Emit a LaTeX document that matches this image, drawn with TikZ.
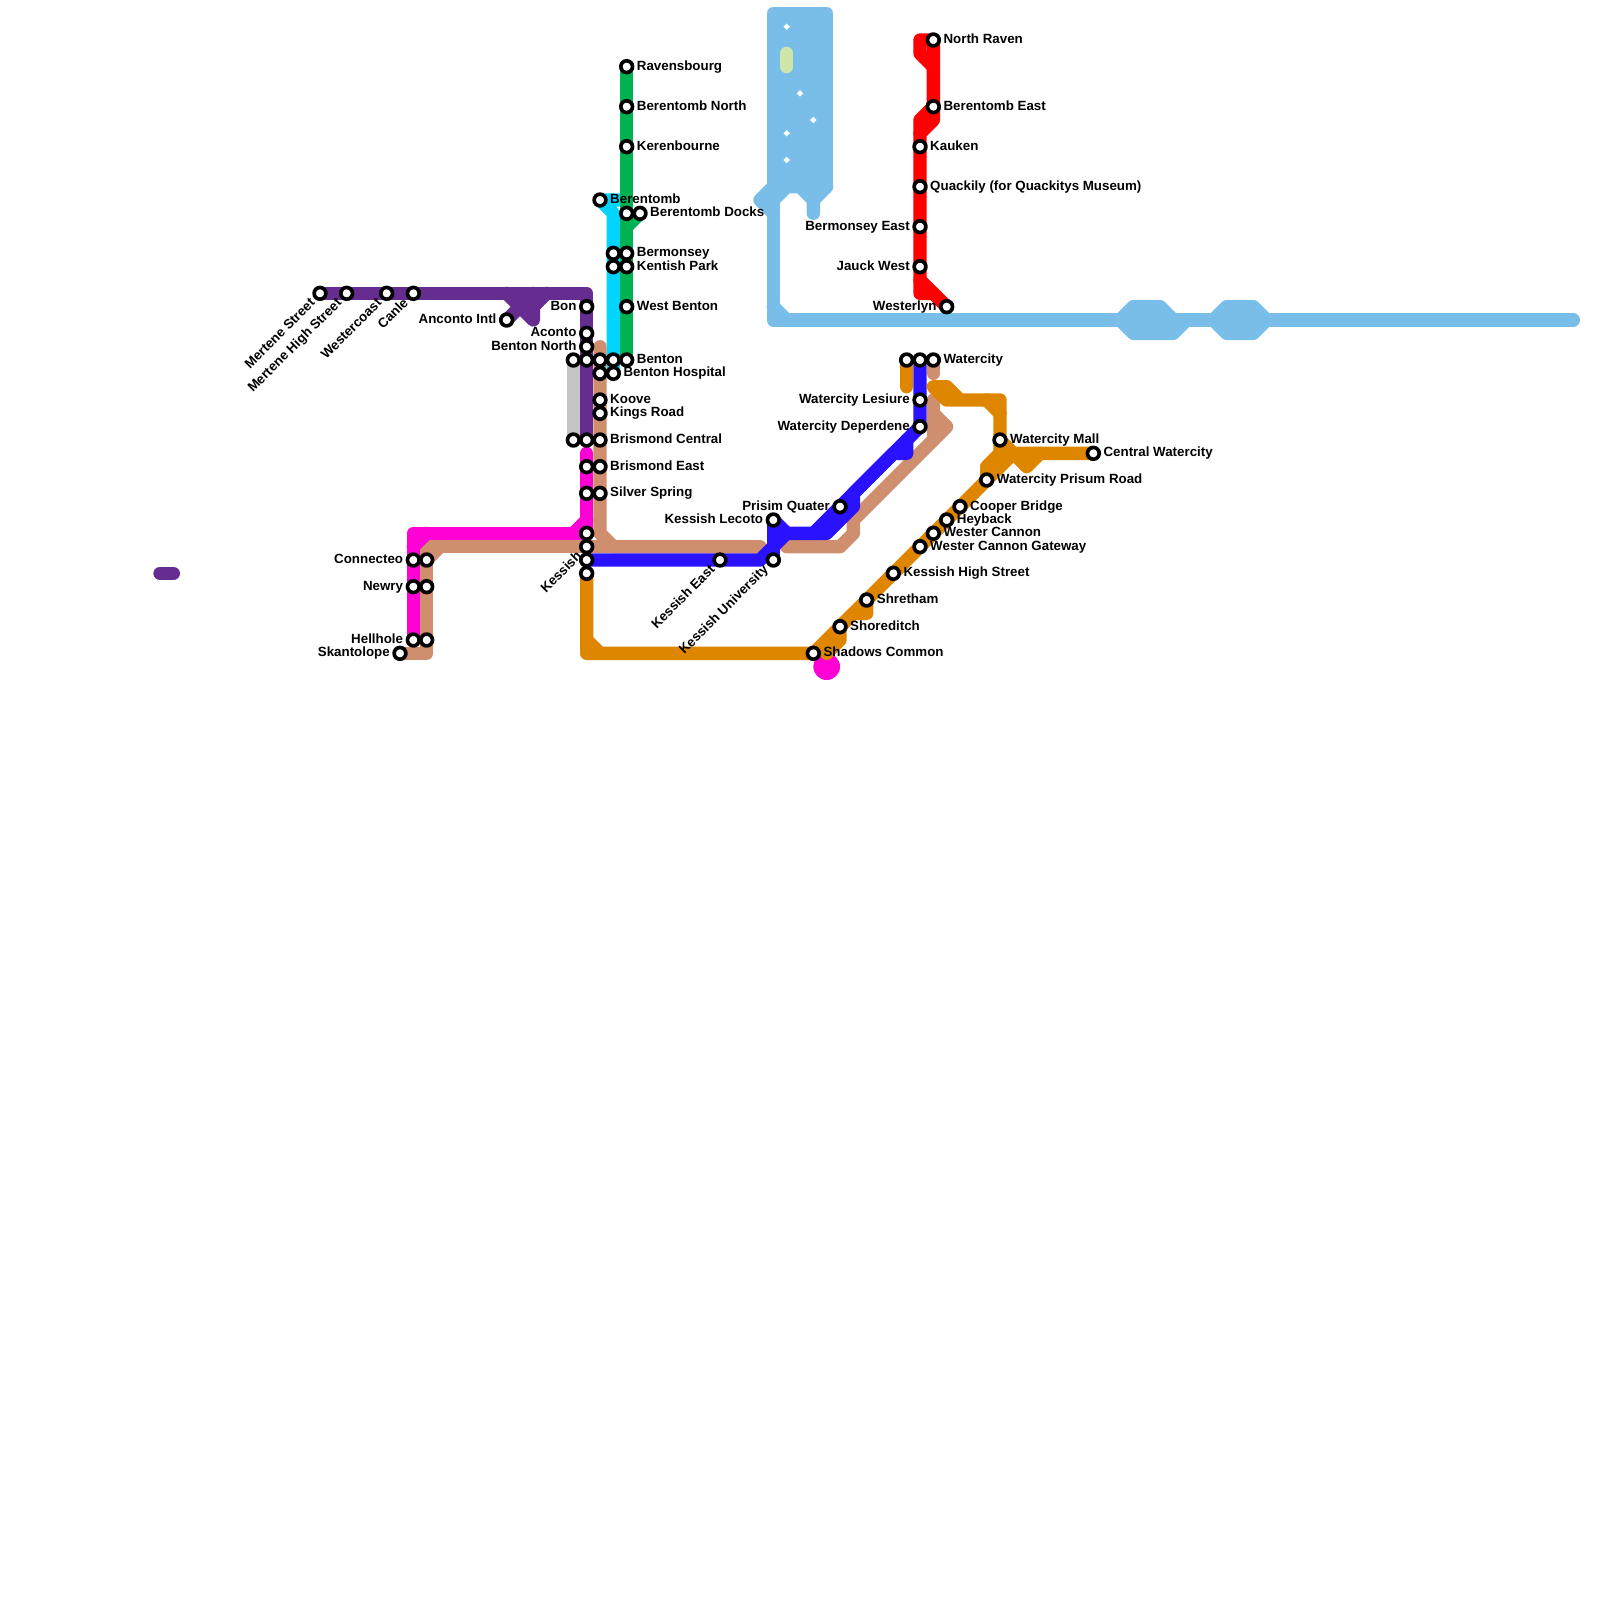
\documentclass[tikz,border=0pt]{standalone}
\usepackage{xcolor}
\usepackage{fontspec}
\usepackage{tikz}
\usetikzlibrary{positioning,backgrounds,shapes.geometric}
\setmainfont{Liberation Sans}
\definecolor{purpleln}{HTML}{662C90}
\definecolor{magentaln}{HTML}{FF00D4}
\definecolor{tanln}{HTML}{CF8E6D}
\definecolor{blueln}{HTML}{2A12FF}
\definecolor{orangeln}{HTML}{DF8600}
\definecolor{cyanln}{HTML}{00D4FF}
\definecolor{greenln}{HTML}{00B251}
\definecolor{redln}{HTML}{FF0000}
\definecolor{skyln}{HTML}{79BDE9}
\definecolor{greyln}{HTML}{C5C5C5}
\definecolor{paleln}{HTML}{CFE4A7}

\begin{document}
\begin{tikzpicture}[
  x=0.4cm, y=-0.4cm,
  metro/.style={line width=0.4cm, line cap=round, line join=round},
  stn/.style={circle, draw=black, fill=white, line width=0.11cm, minimum size=0.352cm, inner sep=0pt},
  gap/.style={diamond, fill=white, minimum size=0.2cm, inner sep=0pt},
  lbl/.style={font=\fontsize{11.38}{13}\selectfont\bfseries, text=black, inner sep=0pt},
  rlbl/.style={lbl, anchor=base west, xshift=0.3cm, yshift=-0.1cm},
  llbl/.style={lbl, anchor=base east, xshift=-0.3cm, yshift=-0.1cm},
  dlbl/.style={lbl, anchor=base east, xshift=-0.13cm, yshift=-0.31cm, rotate=45},
]
\useasboundingbox (0,0) rectangle (120,120);

% Green line
\node[stn] (ravensbourg) at (47,5) {};
\node[stn] (berentombn) at (47,8) {};
\node[stn] (kerenbourne) at (47,11) {};
\node[stn] (berentombb) at (47,16) {};
\node[stn] (docks) at (48,16) {};
\node[stn] (bermonsey) at (47,19) {};
\node[stn] (kentish) at (47,20) {};
\node[stn] (westbenton) at (47,23) {};
\node[stn] (benton) at (47,27) {};
\node[rlbl] (ravensbourgl) at (ravensbourg.center) {Ravensbourg};
\node[rlbl] (berentombnl) at (berentombn.center) {Berentomb North};
\node[rlbl] (kerenbournel) at (kerenbourne.center) {Kerenbourne};
\node[rlbl] (docksl) at (docks.center) {Berentomb Docks};
\node[rlbl] (bermonseyl) at (bermonsey.center) {Bermonsey};
\node[rlbl] (kentishl) at (kentish.center) {Kentish Park};
\node[rlbl] (westbentonl) at (westbenton.center) {West Benton};
\node[rlbl] (bentonl) at (benton.center) {Benton};

% Cyan line
\node[stn] (berentomb) at (45,15) {};
\node[stn] (bermonseyb) at (46,19) {};
\node[stn] (kentishb) at (46,20) {};
\node[stn] (bentonb) at (46,27) {};
\node[stn] (hospital) at (46,28) {};
\node[rlbl] (berentombl) at (berentomb.center) {Berentomb};
\node[rlbl] (hospitall) at (hospital.center) {Benton Hospital};

% Purple line
\node[stn] (mertene) at (24,22) {};
\node[stn] (mertenehigh) at (26,22) {};
\node[stn] (westercoast) at (29,22) {};
\node[stn] (canle) at (31,22) {};
\node[stn] (anconto) at (38,24) {};
\node[stn] (bon) at (44,23) {};
\node[stn] (aconto) at (44,25) {};
\node[stn] (bentonn) at (44,26) {};
\node[stn] (bentonc) at (44,27) {};
\node[stn] (brismondb) at (44,33) {};
\node[dlbl] (mertenel) at (mertene.center) {Mertene Street};
\node[dlbl] (mertenehighl) at (mertenehigh.center) {Mertene High Street};
\node[dlbl] (westercoastl) at (westercoast.center) {Westercoast};
\node[dlbl] (canlel) at (canle.center) {Canle};
\node[llbl] (ancontol) at (anconto.center) {Anconto Intl};
\node[llbl] (bonl) at (bon.center) {Bon};
\node[llbl] (acontol) at (aconto.center) {Aconto};
\node[llbl] (bentonnl) at (bentonn.center) {Benton North};

% Grey line
\node[stn] (bentond) at (43,27) {};
\node[stn] (brismondc) at (43,33) {};

% Tan line
\node[stn] (bentone) at (45,27) {};
\node[stn] (hospitalb) at (45,28) {};
\node[stn] (koove) at (45,30) {};
\node[stn] (kings) at (45,31) {};
\node[stn] (brismond) at (45,33) {};
\node[stn] (brismonde) at (45,35) {};
\node[stn] (silver) at (45,37) {};
\node[stn] (kessishb) at (44,41) {};
\node[stn] (connecteob) at (32,42) {};
\node[stn] (newryb) at (32,44) {};
\node[stn] (hellholeb) at (32,48) {};
\node[stn] (skantolope) at (30,49) {};
\node[stn] (watercityc) at (70,27) {};
\node[rlbl] (koovel) at (koove.center) {Koove};
\node[rlbl] (kingsl) at (kings.center) {Kings Road};
\node[rlbl] (brismondl) at (brismond.center) {Brismond Central};
\node[rlbl] (brismondel) at (brismonde.center) {Brismond East};
\node[rlbl] (silverl) at (silver.center) {Silver Spring};
\node[dlbl] (kessishl) at (kessishb.center) {Kessish};
\node[llbl] (skantolopel) at (skantolope.center) {Skantolope};
\node[rlbl] (watercityl) at (watercityc.center) {Watercity};

% Magenta line
\node[stn] (brismondf) at (44,35) {};
\node[stn] (silverb) at (44,37) {};
\node[stn] (kessisha) at (44,40) {};
\node[stn] (connecteo) at (31,42) {};
\node[stn] (newry) at (31,44) {};
\node[stn] (hellhole) at (31,48) {};
\node[llbl] (connecteol) at (connecteo.center) {Connecteo};
\node[llbl] (newryl) at (newry.center) {Newry};
\node[llbl] (hellholel) at (hellhole.center) {Hellhole};

% Blue line
\node[stn] (kessishc) at (44,42) {};
\node[stn] (kessishe) at (54,42) {};
\node[stn] (kessishu) at (58,42) {};
\node[stn] (lecoto) at (58,39) {};
\node[stn] (prisim) at (63,38) {};
\node[stn] (deperdene) at (69,32) {};
\node[stn] (lesiure) at (69,30) {};
\node[stn] (watercity) at (69,27) {};
\node[dlbl] (kessishel) at (kessishe.center) {Kessish East};
\node[dlbl] (kessishul) at (kessishu.center) {Kessish University};
\node[llbl] (lecotol) at (lecoto.center) {Kessish Lecoto};
\node[llbl] (prisiml) at (prisim.center) {Prisim Quater};
\node[llbl] (deperdenel) at (deperdene.center) {Watercity Deperdene};
\node[llbl] (lesiurel) at (lesiure.center) {Watercity Lesiure};

% Orange line
\node[stn] (kessishd) at (44,43) {};
\node[stn] (shadows) at (61,49) {};
\node[stn] (shoreditch) at (63,47) {};
\node[stn] (shretham) at (65,45) {};
\node[stn] (kessishh) at (67,43) {};
\node[stn] (gateway) at (69,41) {};
\node[stn] (wester) at (70,40) {};
\node[stn] (heyback) at (71,39) {};
\node[stn] (cooper) at (72,38) {};
\node[stn] (prisum) at (74,36) {};
\node[stn] (mall) at (75,33) {};
\node[stn] (central) at (82,34) {};
\node[stn] (watercityb) at (68,27) {};
\node[rlbl] (shadowsl) at (shadows.center) {Shadows Common};
\node[rlbl] (shoreditchl) at (shoreditch.center) {Shoreditch};
\node[rlbl] (shrethaml) at (shretham.center) {Shretham};
\node[rlbl] (kessishhl) at (kessishh.center) {Kessish High Street};
\node[rlbl] (gatewayl) at (gateway.center) {Wester Cannon Gateway};
\node[rlbl] (westerl) at (wester.center) {Wester Cannon};
\node[rlbl] (heybackl) at (heyback.center) {Heyback};
\node[rlbl] (cooperl) at (cooper.center) {Cooper Bridge};
\node[rlbl] (prisuml) at (prisum.center) {Watercity Prisum Road};
\node[rlbl] (malll) at (mall.center) {Watercity Mall};
\node[rlbl] (centrall) at (central.center) {Central Watercity};

% Red line
\node[stn] (raven) at (70,3) {};
\node[stn] (berentombe) at (70,8) {};
\node[stn] (kauken) at (69,11) {};
\node[stn] (quackily) at (69,14) {};
\node[stn] (bermonseye) at (69,17) {};
\node[stn] (jauck) at (69,20) {};
\node[stn] (westerlyn) at (71,23) {};
\node[rlbl] (ravenl) at (raven.center) {North Raven};
\node[rlbl] (berentombel) at (berentombe.center) {Berentomb East};
\node[rlbl] (kaukenl) at (kauken.center) {Kauken};
\node[rlbl] (quackilyl) at (quackily.center) {Quackily (for Quackitys Museum)};
\node[llbl] (bermonseyel) at (bermonseye.center) {Bermonsey East};
\node[llbl] (jauckl) at (jauck.center) {Jauck West};
\node[llbl] (westerlynl) at (westerlyn.center) {Westerlyn};

% Bends
\coordinate (pa) at (38,22); \coordinate (pb) at (40,22); \coordinate (pc) at (41,22);
\coordinate (pd) at (40,23); \coordinate (pe) at (40,24); \coordinate (pf) at (44,22);
\coordinate (pg) at (12,43); \coordinate (ph) at (13,43);
\coordinate (ca) at (47,15); \coordinate (cb) at (46,16); \coordinate (ga) at (47,17);
\coordinate (ta) at (45,26); \coordinate (tb) at (45,40); \coordinate (tc) at (46,41);
\coordinate (td) at (57,41); \coordinate (te) at (32,41); \coordinate (tf) at (33,41);
\coordinate (tg) at (32,49); \coordinate (th) at (59,41); \coordinate (ti) at (63,41);
\coordinate (tj) at (64,40); \coordinate (tk) at (64,39); \coordinate (tl) at (71,32);
\coordinate (tm) at (70,28); \coordinate (tn) at (70,30); \coordinate (to) at (70,31);
\coordinate (tp) at (70,33);
\coordinate (ma) at (44,34); \coordinate (mb) at (44,39); \coordinate (mc) at (43,40);
\coordinate (md) at (31,40); \coordinate (me) at (32,40); \coordinate (mf) at (31,41);
\coordinate (ba) at (57,42); \coordinate (bb) at (58,41); \coordinate (bc) at (59,40);
\coordinate (bd) at (62,40); \coordinate (be) at (64,38); \coordinate (bf) at (64,37);
\coordinate (bg) at (67,34); \coordinate (bh) at (68,34); \coordinate (bi) at (68,33);
\coordinate (bj) at (61,40);
\coordinate (oa) at (44,48); \coordinate (ob) at (44,49); \coordinate (oc) at (45,49);
\coordinate (od) at (62,49); \coordinate (oe) at (63,48); \coordinate (of) at (64,46);
\coordinate (og) at (65,46); \coordinate (oh) at (74,35); \coordinate (oi) at (75,34);
\coordinate (oj) at (76,34); \coordinate (ok) at (77,35); \coordinate (ol) at (78,34);
\coordinate (om) at (75,31); \coordinate (on) at (75,30); \coordinate (oo) at (74,30);
\coordinate (op) at (72,30); \coordinate (oq) at (71,29); \coordinate (or) at (70,29);
\coordinate (os) at (71,30); \coordinate (ot) at (68,29);
\coordinate (ra) at (69,3); \coordinate (rb) at (69,4); \coordinate (rc) at (70,5);
\coordinate (rd) at (70,9); \coordinate (re) at (69,10); \coordinate (rf) at (69,9);
\coordinate (rg) at (69,21); \coordinate (rh) at (69,22); \coordinate (ri) at (70,22);
\coordinate (sa) at (58,1); \coordinate (sb) at (62,14); \coordinate (sc) at (58,14);
\coordinate (sd) at (57,15); \coordinate (se) at (58,16); \coordinate (sf) at (58,15);
\coordinate (sg) at (59,14); \coordinate (sh) at (60,14); \coordinate (si) at (61,15);
\coordinate (sj) at (61,16); \coordinate (sk) at (58,23); \coordinate (sl) at (58,24);
\coordinate (sm) at (59,24); \coordinate (sn) at (118,24);
\coordinate (ha) at (84,24); \coordinate (hb) at (85,23); \coordinate (hc) at (87,23);
\coordinate (hd) at (88,24); \coordinate (he) at (85,25); \coordinate (hf) at (88,25);
\coordinate (hg) at (89,24); \coordinate (hh) at (91,24); \coordinate (hi) at (92,23);
\coordinate (hj) at (94,23); \coordinate (hk) at (95,24); \coordinate (hl) at (92,25);
\coordinate (hm) at (94,25);
\coordinate (la) at (59,4); \coordinate (lb) at (59,5);

\begin{scope}[on background layer]
% River
\draw[metro, skyln, fill=skyln] (sa) rectangle (sb);
\draw[metro, skyln] (sc) -- (sd) -- (se);
\draw[metro, skyln] (sf) -- (sg) -- (sh) -- (si) -- (sj);
\draw[metro, skyln] (si) -- (sb);
\draw[metro, skyln] (sc) -- (sl) -- (sn);
\draw[metro, skyln] (sk) -- (sm);
\draw[metro, skyln, fill=skyln] (ha) -- (hb) -- (hc) -- (hd) -- (hg) -- (hf) -- (he) -- cycle;
\draw[metro, skyln, fill=skyln] (hh) -- (hi) -- (hj) -- (hk) -- (hm) -- (hl) -- cycle;
\node[gap] (gapa) at (59,2) {};
\node[gap] (gapb) at (60,7) {};
\node[gap] (gapc) at (61,9) {};
\node[gap] (gapd) at (59,10) {};
\node[gap] (gape) at (59,12) {};
\draw[metro, paleln] (la) -- (lb);

% Lines
\fill[magentaln] (62,50) circle (1);
\draw[metro, greyln] (bentond.center) -- (brismondc.center);
\draw[metro, cyanln] (ca) -- (berentomb.center) -- (cb) -- (hospital.center);
\draw[metro, greenln] (ravensbourg.center) -- (benton.center);
\draw[metro, greenln] (ga) -- (docks.center);
\draw[metro, purpleln] (mertene.center) -- (pf) -- (brismondb.center);
\draw[metro, purpleln] (anconto.center) -- (pb) -- (pe) -- (pa);
\draw[metro, purpleln] (pd) -- (pc);
\draw[metro, purpleln] (pg) -- (ph);
\draw[metro, tanln] (ta) -- (tb) -- (tc) -- (td);
\draw[metro, tanln] (tc) -- (te) -- (tg) -- (skantolope.center);
\draw[metro, tanln] (connecteob.center) -- (tf);
\draw[metro, tanln] (th) -- (ti) -- (tj) -- (tk) -- (tl) -- (to);
\draw[metro, tanln] (tn) -- (tp);
\draw[metro, tanln] (watercityc.center) -- (tm);
\draw[metro, magentaln] (ma) -- (kessisha.center) -- (md) -- (hellhole.center);
\draw[metro, magentaln] (mb) -- (mc);
\draw[metro, magentaln] (me) -- (mf);
\draw[metro, blueln] (kessishc.center) -- (ba) -- (bc) -- (bd) -- (be) -- (bf) -- (bg) -- (bh) -- (bi);
\draw[metro, blueln] (lecoto.center) -- (kessishu.center);
\draw[metro, blueln] (lecoto.center) -- (bc);
\draw[metro, blueln] (bj) -- (deperdene.center) -- (watercity.center);
\draw[metro, orangeln] (kessishd.center) -- (ob) -- (shadows.center) -- (oj) -- (central.center);
\draw[metro, orangeln] (oa) -- (oc);
\draw[metro, orangeln] (od) -- (oe) -- (shoreditch.center);
\draw[metro, orangeln] (shoreditch.center) -- (of) -- (og) -- (shretham.center);
\draw[metro, orangeln] (prisum.center) -- (oh) -- (oi);
\draw[metro, orangeln] (oj) -- (ok) -- (ol);
\draw[metro, orangeln] (mall.center) -- (oj);
\draw[metro, orangeln] (oi) -- (on) -- (op) -- (oq) -- (or) -- (os) -- (op);
\draw[metro, orangeln] (oo) -- (om);
\draw[metro, orangeln] (watercityb.center) -- (ot);
\draw[metro, redln] (raven.center) -- (ra) -- (rb) -- (rc);
\draw[metro, redln] (raven.center) -- (rd) -- (re) -- (rh) -- (ri) -- (westerlyn.center);
\draw[metro, redln] (rg) -- (westerlyn.center);
\draw[metro, redln] (berentombe.center) -- (rf) -- (re);
\end{scope}

\end{tikzpicture}
\end{document}
